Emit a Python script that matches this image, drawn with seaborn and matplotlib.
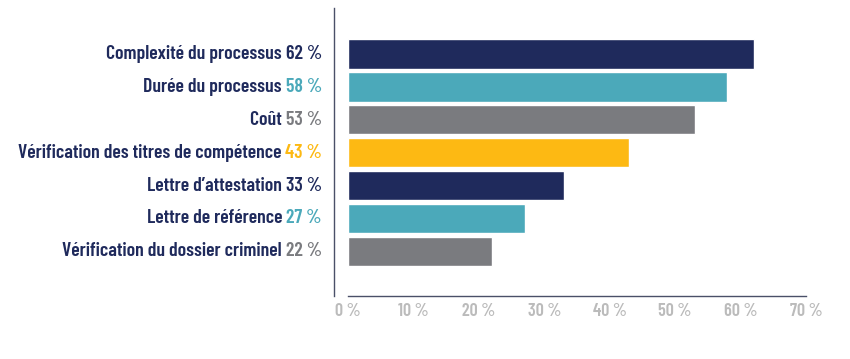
import matplotlib
matplotlib.use("Agg")
import matplotlib.pyplot as plt
import seaborn as sns
import pandas as pd
from matplotlib import font_manager

categories = [
    "Complexité du processus",
    "Durée du processus",
    "Coût",
    "Vérification des titres de compétence",
    "Lettre d\u2019attestation",
    "Lettre de référence",
    "Vérification du dossier criminel",
]
values = [62, 58, 53, 43, 33, 27, 22]
bar_colors = ["#1F2A5C", "#4BA9BA", "#7A7B7F", "#FDB913", "#1F2A5C", "#4BA9BA", "#7A7B7F"]
pct_colors = ["#1F2A5C", "#4BA9BA", "#7A7B7F", "#FDB913", "#1F2A5C", "#4BA9BA", "#7A7B7F"]
xticks = [0, 10, 20, 30, 40, 50, 60, 70]
xtick_labels = ["0 %", "10 %", "20 %", "30 %", "40 %", "50 %", "60 %", "70 %"]

sns.set_theme(style="white")
names = {f.name for f in font_manager.fontManager.ttflist}
FONT = "Barlow Condensed" if "Barlow Condensed" in names else "DejaVu Sans"
plt.rcParams["font.family"] = [FONT, "DejaVu Sans"]

df = pd.DataFrame({"cat": categories, "val": values})

fig = plt.figure(figsize=(8.5, 3.59), dpi=100)
ax = fig.add_axes([348 / 850, 1 - 296 / 359, (806 - 348) / 850, (296 - 8) / 359])

sns.barplot(data=df, x="val", y="cat", hue="cat", palette=bar_colors,
            orient="h", width=0.89, legend=False, ax=ax, saturation=1)

ax.set_xlim(0, 70)
ax.set_ylim(7.36, -1.40)
ax.set_xlabel("")
ax.set_ylabel("")
ax.set_yticks([])
ax.set_xticks(xticks)
ax.set_xticklabels(xtick_labels, fontsize=13, color="#BBBBBB", fontweight=600)
ax.tick_params(axis="x", direction="in", length=7, width=1, color="#4A5068", pad=5)

for s in ["top", "right"]:
    ax.spines[s].set_visible(False)
ax.spines["left"].set_position(("outward", 10))
ax.spines["left"].set_color("#4A5068")
ax.spines["left"].set_linewidth(1)
ax.spines["bottom"].set_color("#4A5068")
ax.spines["bottom"].set_linewidth(1)

xpos = (322 - 348) / (806 - 348)
trans = ax.get_yaxis_transform()
for i, (cat, v, pc) in enumerate(zip(categories, values, pct_colors)):
    t = ax.text(xpos, i, f"{v} %", transform=trans, ha="right", va="center",
                fontsize=14.2, fontweight=600, color=pc)
    ax.annotate(cat + " ", xy=(0, 0), xycoords=t, ha="right", va="bottom",
                fontsize=14.2, fontweight=600, color="#1F2A5C")

fig.savefig("out.png", dpi=100)
